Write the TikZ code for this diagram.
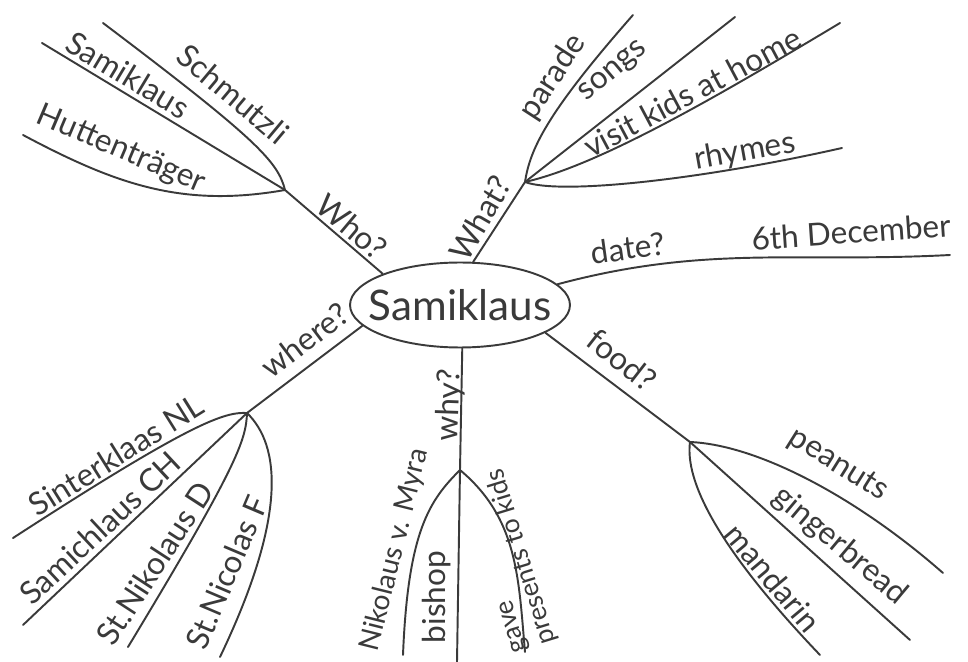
\documentclass[tikz,border=0pt]{standalone}
\usepackage{fontspec}
\setmainfont{Lato}
\usetikzlibrary{shapes.geometric}
\definecolor{ink}{HTML}{3A3A3A}

\begin{document}
\begin{tikzpicture}[x=0.02cm, y=0.02cm,
    hand/.style={font=\fontsize{18}{20}\selectfont, text=ink, inner sep=1pt},
    small hand/.style={font=\fontsize{15}{17}\selectfont, text=ink, inner sep=1pt, align=left},
    branch/.style={draw=ink, line width=1.1pt, line cap=round}]
    \useasboundingbox (0,0) rectangle (968,-662);

    % Centre
    \node[ellipse, draw=ink, line width=1.1pt, minimum width=4.4cm, minimum height=1.7cm,
          inner xsep=-12pt, inner ysep=0pt,
          font=\fontsize{24}{26}\selectfont, text=ink] (sami) at (460,-305) {Samiklaus};

    % Who?
    \coordinate (who) at (285,-190);
    \coordinate (schE) at (103,-23);
    \coordinate (samE) at (42,-43);
    \coordinate (hutE) at (23,-135);
    \draw[branch] (sami.158) -- (who);
    \draw[branch] (who) .. controls (278,-162) and (258,-140) .. (schE);
    \draw[branch] (who) -- (samE);
    \draw[branch] (who) to[out=190,in=-28] (hutE);
    \node[hand, rotate=-40] (whoL) at (352,-227) {Who?};
    \node[hand, rotate=-40] (schL) at (233,-94) {Schmutzli};
    \node[hand, rotate=-31] (samL) at (128,-75) {Samiklaus};
    \node[hand, rotate=-23] (hutL) at (121,-150) {Huttenträger};

    % What?
    \coordinate (what) at (525,-182);
    \coordinate (parE) at (633,-15);
    \coordinate (sonE) at (735,-17);
    \coordinate (visE) at (840,-23);
    \coordinate (rhyE) at (842,-148);
    \draw[branch] (sami.73) -- (what);
    \draw[branch] (what) .. controls (530,-150) and (545,-115) .. (parE);
    \draw[branch] (what) -- (sonE);
    \draw[branch] (what) .. controls (600,-165) and (720,-95) .. (visE);
    \draw[branch] (what) .. controls (560,-195) and (700,-180) .. (rhyE);
    \node[hand, rotate=60] (whatL) at (480,-218) {What?};
    \node[hand, rotate=57] (parL) at (553,-77) {parade};
    \node[hand, rotate=40] (sonL) at (614,-72) {songs};
    \node[hand, rotate=28] (visL) at (692,-92) {visit kids at home};
    \node[hand, rotate=10] (rhyL) at (745,-152) {rhymes};

    % date?
    \coordinate (datE) at (950,-255);
    \draw[branch] (sami.12) to[out=15,in=183] (datE);
    \node[hand, rotate=8] (datL) at (628,-248) {date?};
    \node[hand, rotate=4] (decL) at (851,-232) {6th December};

    % food?
    \coordinate (food) at (690,-442);
    \coordinate (peaE) at (943,-573);
    \coordinate (ginE) at (910,-640);
    \coordinate (manE) at (820,-655);
    \draw[branch] (sami.-18) -- (food);
    \draw[branch] (food) .. controls (760,-445) and (860,-500) .. (peaE);
    \draw[branch] (food) -- (ginE);
    \draw[branch] (food) .. controls (685,-480) and (715,-545) .. (manE);
    \node[hand, rotate=-38] (foodL) at (622,-360) {food?};
    \node[hand, rotate=-32] (peaL) at (838,-465) {peanuts};
    \node[hand, rotate=-40] (ginL) at (840,-546) {gingerbread};
    \node[hand, rotate=-50] (manL) at (773,-578) {mandarin};

    % why?
    \coordinate (why) at (460,-470);
    \coordinate (bisE) at (457,-662);
    \coordinate (nikE) at (403,-655);
    \coordinate (gavE) at (525,-652);
    \draw[branch] (sami.-87) -- (why);
    \draw[branch] (why) -- (bisE);
    \draw[branch] (why) .. controls (430,-500) and (408,-530) .. (nikE);
    \draw[branch] (why) to[out=-40,in=95] (gavE);
    \node[hand, rotate=88] (whyL) at (450,-405) {why?};
    \node[hand, font=\fontsize{16}{18}\selectfont, rotate=76] (nikL) at (395,-550) {Nikolaus v. Myra};
    \node[hand, rotate=90] (bisL) at (437,-597) {bishop};
    \node[small hand, rotate=107] (gavL) at (510,-560) {gave\\presents to kids};

    % where?
    \coordinate (where) at (247,-413);
    \coordinate (sinE) at (13,-538);
    \coordinate (smcE) at (23,-625);
    \coordinate (stnE) at (128,-647);
    \coordinate (stfE) at (220,-657);
    \draw[branch] (sami.192) -- (where);
    \draw[branch] (where) .. controls (225,-412) and (195,-420) .. (sinE);
    \draw[branch] (where) -- (smcE);
    \draw[branch] (where) .. controls (246,-440) and (238,-465) .. (stnE);
    \draw[branch] (where) .. controls (280,-445) and (288,-515) .. (stfE);
    \node[hand, rotate=37] (whereL) at (305,-340) {where?};
    \node[hand, rotate=32] (sinL) at (116,-455) {Sinterklaas NL};
    \node[hand, rotate=43] (smcL) at (100,-528) {Samichlaus CH};
    \node[hand, rotate=57] (stnL) at (155,-563) {St.Nikolaus D};
    \node[hand, rotate=67] (stfL) at (227,-572) {St.Nicolas F};
\end{tikzpicture}
\end{document}
